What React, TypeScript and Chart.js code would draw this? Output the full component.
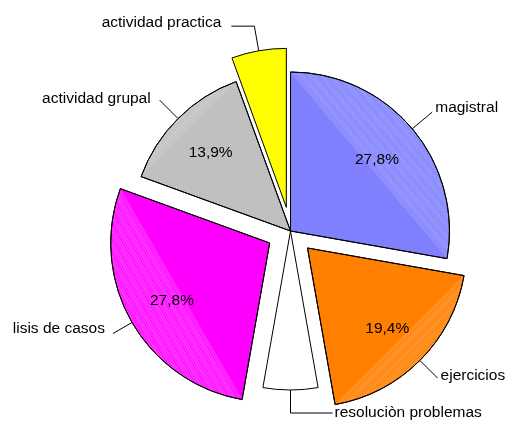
import React, { useEffect, useRef } from "react";
import { Chart, registerables } from "chart.js";

Chart.register(...registerables);

// ---- data ----
const categories = [
  "magistral",
  "ejercicios",
  "resoluciòn problemas",
  "lisis de casos",
  "actividad grupal",
  "actividad practica",
];
const values = [10, 7, 2, 10, 5, 2];

// ---- styles ----
const sliceColors = ["#8080FF", "#FF8000", "#FFFFFF", "#FF00FF", "#C0C0C0", "#FFFF00"];
const explode = [0, 24, 0, 24, 0, 24];
const hatchAlpha = [0.32, 0.32, 0, 0.32, 0.3, 0];
const FONT = '15.5px "Liberation Sans", Arial, sans-serif';
const labelStyle = [
  { len: 26, elbow: 0, gap: 3, align: "left", dy: 0 },
  { len: 25, elbow: 0, gap: 3, align: "left", dy: 2 },
  { len: 23, elbow: 42, gap: 2, align: "left", dy: 3.5 },
  { len: 22, elbow: 0, gap: 8, align: "right", dy: -1 },
  { len: 26, elbow: 0, gap: 9, align: "right", dy: 3 },
  { len: 25, elbow: -23, gap: 10, align: "right", dy: 1 },
];
const PCT_RADIUS = 0.71;
const PCT_MIN = 0.1;

const explodedPiePlugin = {
  id: "explodedPie",
  beforeDatasetDraw(chart: any, args: any) {
    const ctx = chart.ctx as CanvasRenderingContext2D;
    const meta = chart.getDatasetMeta(args.index);
    meta.data.forEach((arc: any, i: number) => {
      const p = arc.getProps(["x", "y", "startAngle", "endAngle", "outerRadius"], true);
      const mid = (p.startAngle + p.endAngle) / 2;
      const d = explode[i] || 0;
      ctx.save();
      ctx.translate(Math.cos(mid) * d, Math.sin(mid) * d);
      arc.draw(ctx);
      const a = hatchAlpha[i];
      if (a > 0) {
        const { x, y, startAngle: s, endAngle: e, outerRadius: r } = p;
        ctx.save();
        ctx.beginPath();
        ctx.moveTo(x + r * Math.cos(s), y + r * Math.sin(s));
        ctx.arc(x, y, r, s, e);
        ctx.closePath();
        ctx.clip();
        const half = (e - s) / 2;
        const dist = r * Math.cos(half);
        const sag = r - dist;
        const nx = Math.cos(mid), ny = Math.sin(mid);
        const ux = -ny, uy = nx;
        ctx.lineWidth = 1;
        const pattern = [1, 0.45, 0.75, 0.3, 0.9, 0.55];
        for (let k = 0, t = 0; t <= sag + 1; k++, t += 1.2) {
          const cx = x + nx * (dist + t), cy = y + ny * (dist + t);
          ctx.strokeStyle = `rgba(255,255,255,${a * pattern[k % pattern.length]})`;
          ctx.beginPath();
          ctx.moveTo(cx - ux * r * 2, cy - uy * r * 2);
          ctx.lineTo(cx + ux * r * 2, cy + uy * r * 2);
          ctx.stroke();
        }
        ctx.restore();
        ctx.beginPath();
        ctx.moveTo(x, y);
        ctx.arc(x, y, r, s, e);
        ctx.closePath();
        ctx.strokeStyle = "#000";
        ctx.lineWidth = 1;
        ctx.stroke();
      }
      ctx.restore();
    });
    return false;
  },
  afterDraw(chart: any) {
    const ctx = chart.ctx as CanvasRenderingContext2D;
    const meta = chart.getDatasetMeta(0);
    const data = chart.data.datasets[0].data as number[];
    const total = data.reduce((s, v) => s + v, 0);
    ctx.save();
    ctx.font = FONT;
    ctx.fillStyle = "#000";
    ctx.strokeStyle = "#000";
    ctx.lineWidth = 1;
    meta.data.forEach((arc: any, i: number) => {
      const p = arc.getProps(["x", "y", "startAngle", "endAngle", "outerRadius"], true);
      const mid = (p.startAngle + p.endAngle) / 2;
      const d = explode[i] || 0;
      const cx = p.x + Math.cos(mid) * d;
      const cy = p.y + Math.sin(mid) * d;
      const r = p.outerRadius;
      const st = labelStyle[i];
      const ax = cx + Math.cos(mid) * r, ay = cy + Math.sin(mid) * r;
      const bx = ax + Math.cos(mid) * st.len, by = ay + Math.sin(mid) * st.len;
      let ex = bx, ey = by;
      ctx.beginPath();
      ctx.moveTo(ax, ay);
      ctx.lineTo(bx, by);
      if (st.elbow) {
        ex = bx + st.elbow;
        ctx.lineTo(ex, ey);
      }
      ctx.stroke();
      ctx.textBaseline = "alphabetic";
      ctx.textAlign = st.align as CanvasTextAlign;
      const tx = st.align === "left" ? ex + st.gap : ex - st.gap;
      ctx.fillText(chart.data.labels[i], tx, ey + st.dy);

      const frac = data[i] / total;
      if (frac >= PCT_MIN) {
        const px = cx + Math.cos(mid) * r * PCT_RADIUS;
        const py = cy + Math.sin(mid) * r * PCT_RADIUS;
        ctx.textAlign = "center";
        ctx.fillText((frac * 100).toFixed(1).replace(".", ",") + "%", px, py + 5.5);
      }
    });
    ctx.restore();
  },
};

export default function App() {
  const ref = useRef<HTMLCanvasElement>(null);
  useEffect(() => {
    if (!ref.current) return;
    const chart = new Chart(ref.current, {
      type: "pie",
      data: {
        labels: categories,
        datasets: [
          {
            data: values,
            backgroundColor: sliceColors,
            borderColor: "#000",
            borderWidth: 1,
            offset: 0,
            hoverOffset: 0,
          },
        ],
      },
      options: {
        responsive: false,
        animation: false,
        radius: 159,
        layout: { padding: { left: 131, top: 71.5, right: 61, bottom: 30.5 } },
        plugins: {
          legend: { display: false },
          tooltip: { enabled: false },
          title: { display: false },
        },
        events: [],
      },
      plugins: [explodedPiePlugin],
    });
    return () => chart.destroy();
  }, []);
  return (
    <div style={{ position: "absolute", left: 0, top: 0, width: 511, height: 421, background: "#fff" }}>
      <canvas ref={ref} width={511} height={421} />
    </div>
  );
}
